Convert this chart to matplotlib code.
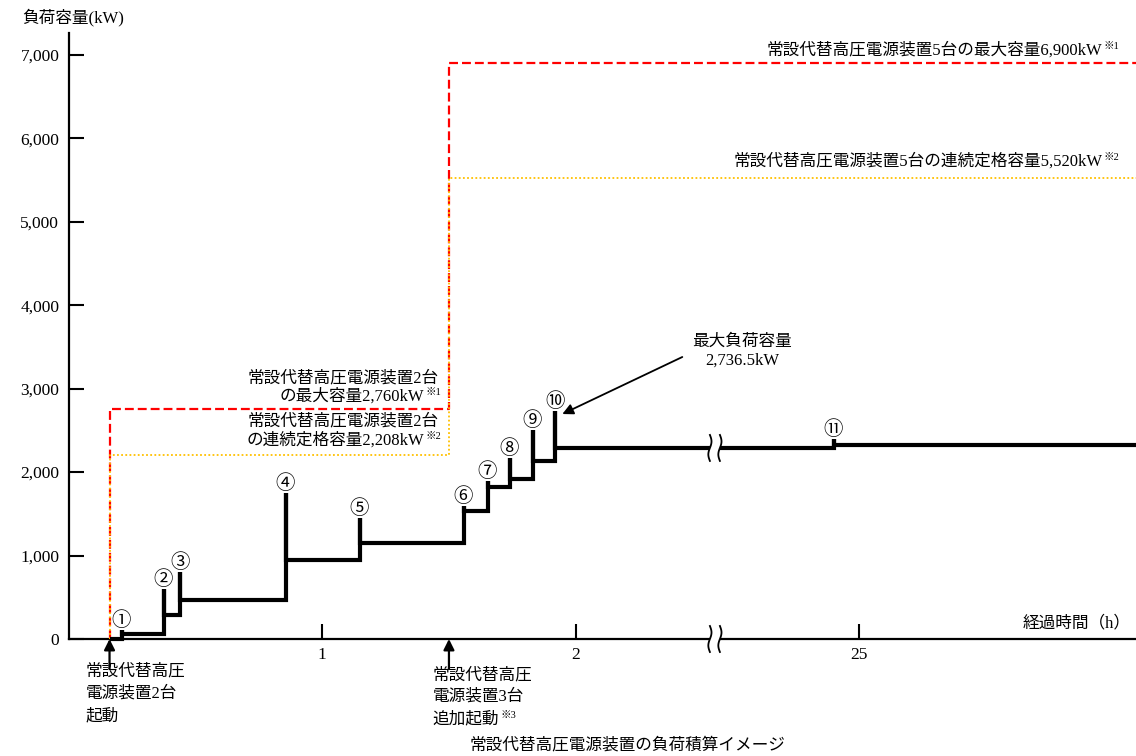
import numpy as np
import matplotlib
matplotlib.use('Agg')
import matplotlib.pyplot as plt

# 数字は明朝風のセリフ体、日本語は Noto Sans CJK JP で代用
plt.rcParams['font.family'] = ['Liberation Serif', 'Noto Sans CJK JP', 'DejaVu Sans']

# 経過時間(h)  ※2.55h〜24.4h は波線で省略
start_time = 0.16          # 常設代替高圧電源装置2台起動
add_time = 1.5             # 常設代替高圧電源装置3台追加起動
end_time = 26.1

event_labels = ['①', '②', '③', '④', '⑤', '⑥', '⑦', '⑧', '⑨', '⑩', '⑪']
event_times = [0.21, 0.375, 0.44, 0.855, 1.15, 1.56, 1.655, 1.74, 1.83, 1.92, 24.9]
peak_loads = [110, 600, 800, 1750, 1450, 1600, 1890, 2170, 2505, 2736.5, 2400]
steady_loads = [60, 290, 465, 950, 1150, 1535, 1820, 1920, 2135, 2290, 2325]

# 容量 (2台 → 5台)
cap_max = [2760, 6900]
cap_cont = [2208, 5520]

xtick_hours = [1, 2, 25]
ytick_values = [0, 1000, 2000, 3000, 4000, 5000, 6000, 7000]

BREAK_START = 2.55
BREAK_SHIFT = 21.88


def to_axis(t):
    t = np.asarray(t, dtype=float)
    return np.where(t > BREAK_START, t - BREAK_SHIFT, t)


# 画面上の位置 (px) → データ座標
X_PX = 253.3     # px / h
Y_PX = 0.08343   # px / kW


def px_x(p):
    return (p - 68.7) / X_PX


def px_y(p):
    return (639 - p) / Y_PX


FS = 12

fig = plt.figure(figsize=(11.36, 7.56), dpi=100)
ax = fig.add_axes([69 / 1136, 117 / 756, 1067 / 1136, 606 / 756])
ax.set_xlim(0, 1067 / X_PX)
ax.set_ylim(0, 606 / Y_PX)

for s in ['top', 'right']:
    ax.spines[s].set_visible(False)
for s in ['left', 'bottom']:
    ax.spines[s].set_linewidth(1.6)

ax.set_xticks(to_axis(xtick_hours))
ax.set_xticklabels([str(h) for h in xtick_hours])
ax.set_yticks(ytick_values)
ax.set_yticklabels([f'{v:,}' for v in ytick_values])
ax.tick_params(direction='in', length=11, width=1.5, labelsize=12.5)
ax.tick_params(axis='x', pad=6)
ax.tick_params(axis='y', pad=7)

# 負荷積算 (階段状)
xs, ys = [start_time], [0]
prev = 0
for t, p, s in zip(event_times, peak_loads, steady_loads):
    xs += [t, t, t]
    ys += [prev, p, s]
    prev = s
xs.append(end_time)
ys.append(prev)
ax.plot(to_axis(xs), ys, color='black', lw=3, solid_joinstyle='miter',
        solid_capstyle='butt', zorder=4, clip_on=False)

# 最大容量 / 連続定格容量
cap_x = to_axis([start_time, start_time, add_time, add_time, end_time])
ax.plot(cap_x, [0, cap_max[0], cap_max[0], cap_max[1], cap_max[1]],
        color='#FF0000', lw=1.6, dashes=(4, 1.8), zorder=3)
ax.plot(cap_x, [0, cap_cont[0], cap_cont[0], cap_cont[1], cap_cont[1]],
        color='#FFC000', lw=1.3, dashes=(1, 1.3), zorder=3)

# ①〜⑪
for lab, t, p in zip(event_labels, event_times, peak_loads):
    ax.annotate(lab, (to_axis(t), p), xytext=(-0.5, 0), textcoords='offset points',
                ha='center', va='bottom', fontsize=14)


def note(x, y, main, sup, ha='right', va='center'):
    txt = ax.text(x, y, main, ha=ha, va=va, fontsize=FS, clip_on=False)
    ax.annotate(sup, xy=(1, 1), xycoords=txt, xytext=(1, 0), textcoords='offset points',
                ha='left', va='top', fontsize=7.5, annotation_clip=False)


note(px_x(1102), px_y(50), '常設代替高圧電源装置5台の最大容量6,900kW', '※1')
note(px_x(1102), px_y(161), '常設代替高圧電源装置5台の連続定格容量5,520kW', '※2')
ax.text(px_x(438), px_y(378), '常設代替高圧電源装置2台', ha='right', va='center', fontsize=FS)
note(px_x(424), px_y(396), 'の最大容量2,760kW', '※1')
ax.text(px_x(438), px_y(421), '常設代替高圧電源装置2台', ha='right', va='center', fontsize=FS)
note(px_x(424), px_y(440), 'の連続定格容量2,208kW', '※2')

# 最大負荷容量
ax.text(px_x(742), px_y(351), '最大負荷容量\n2,736.5kW', ha='center', va='center',
        fontsize=FS, linespacing=1.2)
ax.annotate('', xy=(to_axis(event_times[9]) + 7 / X_PX, peak_loads[9] - 40),
            xytext=(px_x(682), px_y(357)),
            arrowprops=dict(arrowstyle='-|>', color='black', lw=1.3, mutation_scale=16,
                            shrinkA=0, shrinkB=0))

# 起動タイミングの矢印
for t in (start_time, add_time):
    ax.annotate('', xy=(to_axis(t), 0), xytext=(to_axis(t), px_y(669)),
                arrowprops=dict(arrowstyle='-|>', color='black', lw=1.6, mutation_scale=16,
                                shrinkA=0, shrinkB=0), annotation_clip=False)
for i, line in enumerate(['常設代替高圧', '電源装置2台', '起動']):
    ax.text(px_x(85), px_y(671 + 22.5 * i), line, ha='left', va='center',
            fontsize=FS, clip_on=False)
for i, line in enumerate(['常設代替高圧', '電源装置3台']):
    ax.text(px_x(432), px_y(675 + 22 * i), line, ha='left', va='center',
            fontsize=FS, clip_on=False)
note(px_x(432), px_y(719), '追加起動', '※3', ha='left')

# 軸ラベル
fig.text(22 / 1136, 1 - 17 / 756, '負荷容量(kW)', ha='left', va='center', fontsize=FS)
ax.text(px_x(1130), px_y(623), '経過時間（h）', ha='right', va='center', fontsize=FS)
fig.text(628 / 1136, 1 - 745 / 756, '常設代替高圧電源装置の負荷積算イメージ',
         ha='center', va='center', fontsize=FS)


# 波線 (時間軸の省略)
def break_mark(xb, yb):
    ax.plot([xb - 5 / X_PX, xb + 5 / X_PX], [yb, yb], color='white', lw=6,
            solid_capstyle='butt', zorder=5, clip_on=False)
    s = np.linspace(-1, 1, 21)
    for off in (-5, 5):
        ax.plot(xb + (off + 1.6 * np.sin(np.pi * s)) / X_PX, yb + 13 * s / Y_PX,
                color='black', lw=1.3, zorder=6, clip_on=False)


break_mark(BREAK_START, steady_loads[9])
break_mark(BREAK_START, 0)

fig.savefig('out.png', dpi=100)
